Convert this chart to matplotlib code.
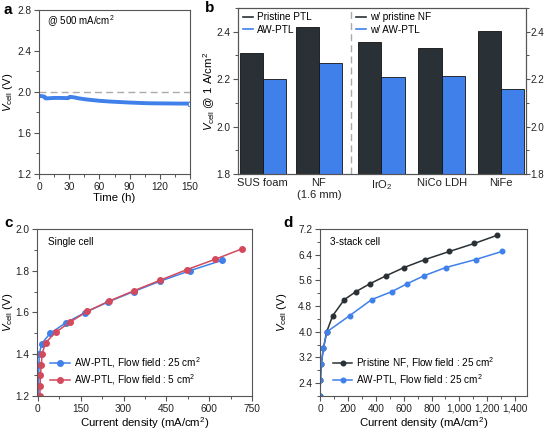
import numpy as np
import matplotlib
matplotlib.use('Agg')
import matplotlib.pyplot as plt
from matplotlib.ticker import MultipleLocator, FuncFormatter

plt.rcParams['font.family'] = ['Liberation Sans', 'DejaVu Sans']
plt.rcParams['mathtext.fontset'] = 'custom'
plt.rcParams['mathtext.rm'] = 'Liberation Sans'
plt.rcParams['mathtext.it'] = 'Liberation Sans:italic'
plt.rcParams['font.size'] = 7
plt.rcParams['axes.edgecolor'] = '#555555'
plt.rcParams['axes.linewidth'] = 0.8
plt.rcParams['xtick.color'] = '#555555'
plt.rcParams['ytick.color'] = '#555555'
plt.rcParams['xtick.labelcolor'] = '#222222'
plt.rcParams['ytick.labelcolor'] = '#222222'
plt.rcParams['xtick.labelsize'] = 7.3
plt.rcParams['ytick.labelsize'] = 7.3

# ---- data ----
# (a) stability at 500 mA/cm2
a_time = [0, 2, 4, 5.5, 6.5, 10, 15, 20, 25, 29, 30.5, 33, 36, 40, 45, 50, 60, 70, 80,
          90, 100, 110, 120, 130, 140, 150]
a_volt = [1.96, 1.958, 1.955, 1.952, 1.935, 1.937, 1.94, 1.94, 1.939, 1.938, 1.95, 1.948,
          1.943, 1.935, 1.928, 1.922, 1.912, 1.905, 1.9, 1.895, 1.891, 1.888, 1.887,
          1.886, 1.885, 1.885]

# (b) cell voltage at 1 A/cm2
b_labels = ['SUS foam', 'NF\n(1.6 mm)', 'IrO$_2$', 'NiCo LDH', 'NiFe']
b_pristine = [2.31, 2.42, 2.355, 2.33, 2.405]
b_aw = [2.20, 2.27, 2.21, 2.213, 2.157]

# (c) single cell polarization
c_j_25 = [1, 2, 3, 4, 5, 13, 43, 97, 166, 245, 335, 428, 532, 645]
c_v_25 = [1.2, 1.25, 1.3, 1.35, 1.4, 1.45, 1.5, 1.55, 1.6, 1.65, 1.7, 1.75, 1.8, 1.85]
c_j_5 = [7, 8, 9, 12, 15, 27, 62, 114, 172, 250, 338, 429, 521, 621, 715]
c_v_5 = [1.2, 1.25, 1.3, 1.35, 1.403, 1.455, 1.505, 1.555, 1.605, 1.655, 1.705, 1.755,
         1.805, 1.855, 1.905]

# (d) 3-stack cell polarization
d_j_nf = [0, 3, 9, 25, 48, 91, 174, 258, 360, 477, 603, 754, 928, 1107, 1268]
d_v_nf = [2.0, 2.5, 3.0, 3.5, 4.0, 4.5, 5.0, 5.25, 5.5, 5.75, 6.0, 6.25, 6.5, 6.75, 7.0]
d_j_aw = [0, 3, 9, 25, 50, 212, 370, 515, 627, 749, 902, 1117, 1305]
d_v_aw = [2.0, 2.5, 3.0, 3.5, 4.0, 4.5, 5.0, 5.25, 5.5, 5.75, 6.0, 6.25, 6.5]
d_xticks = [0, 200, 400, 600, 800, 1000, 1200, 1400]

BLUE = '#3f80ea'
DARK = '#2a3136'
RED = '#d24a5c'

fig = plt.figure(figsize=(5.46, 4.30), dpi=100)

def style(ax):
    ax.tick_params(which='major', direction='out', length=3.5, width=0.8, pad=2)
    ax.tick_params(which='minor', direction='out', length=2, width=0.7)

legkw = dict(frameon=False, fontsize=7.2, handletextpad=0.4, labelspacing=0.25,
             borderaxespad=0, borderpad=0)

# ---- a ----
ax = fig.add_axes([39/546, 1-174/430, 151/546, 164.5/430])
ax.axhline(2.0, color='#aaaaaa', ls=(0, (5, 3)), lw=1)
ax.plot(a_time, a_volt, color=BLUE, lw=2.8, solid_capstyle='butt')
ax.plot(a_time[-1:], a_volt[-1:], ls='none', marker='s', ms=2.5, mfc='white',
        mec=BLUE, mew=0.6)
ax.set_xlim(0, 150)
ax.set_ylim(1.2, 2.8)
ax.xaxis.set_major_locator(MultipleLocator(30))
ax.xaxis.set_minor_locator(MultipleLocator(15))
ax.yaxis.set_major_locator(MultipleLocator(0.4))
ax.yaxis.set_minor_locator(MultipleLocator(0.2))
style(ax)
ax.set_xlabel('Time (h)', fontsize=8.2, labelpad=1)
ax.set_ylabel(r'$V_\mathrm{cell}$ (V)', fontsize=8.2)
ax.yaxis.set_label_coords(-0.16, 0.5)
ax.text(0.05, 0.93, '@ 500 mA/cm$^2$', transform=ax.transAxes, fontsize=7, va='center')
fig.text(3/546, 1-10/430, 'a', fontsize=11, fontweight='bold', va='center')

# ---- b ----
ax = fig.add_axes([238/546, 1-174/430, 288/546, 166/430])
pos = np.array([0, 0.97, 2.05, 3.09, 4.12])
w = 0.4
ax.bar(pos - w/2, b_pristine, w, color=DARK, edgecolor='#111111', lw=0.6)
ax.bar(pos + w/2, b_aw, w, color=BLUE, edgecolor='#111111', lw=0.6)
ax.axvline(1.52, color='#aaaaaa', ls=(0, (5, 3)), lw=1)
ax.set_xlim(-0.43, 4.55)
ax.set_ylim(1.8, 2.5)
ax.set_xticks(pos)
ax.set_xticklabels(b_labels, fontsize=8)
ax.yaxis.set_major_locator(MultipleLocator(0.2))
ax.yaxis.set_minor_locator(MultipleLocator(0.1))
style(ax)
ax.tick_params(axis='x', length=0, pad=3)
ax.set_ylabel(r'$V_\mathrm{cell}$ @ 1 A/cm$^2$', fontsize=8.2)
ax.yaxis.set_label_coords(-0.072, 0.5)
h1, = ax.plot([], [], color=DARK, lw=1.2)
h2, = ax.plot([], [], color=BLUE, lw=1.2)
leg1 = ax.legend([h1, h2], ['Pristine PTL', 'AW-PTL'], loc='upper left',
                 handlelength=1.0, bbox_to_anchor=(0.017, 0.975), **legkw)
ax.add_artist(leg1)
ax.legend([h1, h2], ['w/ pristine NF', 'w/ AW-PTL'], loc='upper left',
          handlelength=1.0, bbox_to_anchor=(0.41, 0.975), **legkw)
ax2 = ax.twinx()
ax2.set_ylim(1.8, 2.5)
ax2.yaxis.set_major_locator(MultipleLocator(0.2))
ax2.yaxis.set_minor_locator(MultipleLocator(0.1))
ax2.tick_params(which='major', direction='out', length=2.6, width=0.8, pad=0.4,
                labelsize=7.1)
ax2.tick_params(which='minor', direction='out', length=1.8, width=0.7)
fig.text(205/546, 1-8/430, 'b', fontsize=11, fontweight='bold', va='center')

# ---- c ----
ax = fig.add_axes([37/546, 1-396/430, 215/546, 167/430])
ax.plot(c_j_25, c_v_25, color=BLUE, lw=1.1, marker='o', ms=4,
        label='AW-PTL, Flow field : 25 cm$^2$')
ax.plot(c_j_5, c_v_5, color=RED, lw=1.1, marker='o', ms=4,
        label='AW-PTL, Flow field : 5 cm$^2$')
ax.set_xlim(-3, 750)
ax.set_ylim(1.2, 2.0)
ax.xaxis.set_major_locator(MultipleLocator(150))
ax.xaxis.set_minor_locator(MultipleLocator(75))
ax.yaxis.set_major_locator(MultipleLocator(0.2))
ax.yaxis.set_minor_locator(MultipleLocator(0.1))
style(ax)
ax.set_xlabel('Current density (mA/cm$^2$)', fontsize=8.2, labelpad=1)
ax.set_ylabel(r'$V_\mathrm{cell}$ (V)', fontsize=8.2)
ax.yaxis.set_label_coords(-0.1, 0.5)
ax.text(0.05, 0.92, 'Single cell', transform=ax.transAxes, fontsize=7.2, va='center')
ax.legend(loc='lower left', bbox_to_anchor=(0.06, 0.055), handlelength=2.0, **legkw)
fig.text(4/546, 1-223/430, 'c', fontsize=11, fontweight='bold', va='center')

# ---- d ----
ax = fig.add_axes([320/546, 1-396/430, 207/546, 167/430])
ax.plot(d_j_nf, d_v_nf, color=DARK, lw=1.1, marker='o', ms=3.3,
        label='Pristine NF, Flow field : 25 cm$^2$')
ax.plot(d_j_aw, d_v_aw, color=BLUE, lw=1.1, marker='o', ms=3.3,
        label='AW-PTL, Flow field : 25 cm$^2$')
ax.set_xlim(0, 1485)
ax.set_ylim(2.0, 7.2)
ax.set_xticks(d_xticks)
ax.xaxis.set_major_formatter(FuncFormatter(lambda v, p: f'{int(v):,}'))
ax.xaxis.set_minor_locator(MultipleLocator(100))
ax.set_yticks([2.4, 3.2, 4.0, 4.8, 5.6, 6.4, 7.2])
ax.yaxis.set_minor_locator(MultipleLocator(0.4))
style(ax)
ax.set_xlabel('Current density (mA/cm$^2$)', fontsize=8.2, labelpad=1)
ax.set_ylabel(r'$V_\mathrm{cell}$ (V)', fontsize=8.2)
ax.yaxis.set_label_coords(-0.15, 0.5)
ax.text(0.05, 0.92, '3-stack cell', transform=ax.transAxes, fontsize=7.2, va='center')
ax.legend(loc='lower left', bbox_to_anchor=(0.063, 0.055), handlelength=1.9, **legkw)
fig.text(283/546, 1-223/430, 'd', fontsize=11, fontweight='bold', va='center')

fig.savefig('out.png', dpi=100)
